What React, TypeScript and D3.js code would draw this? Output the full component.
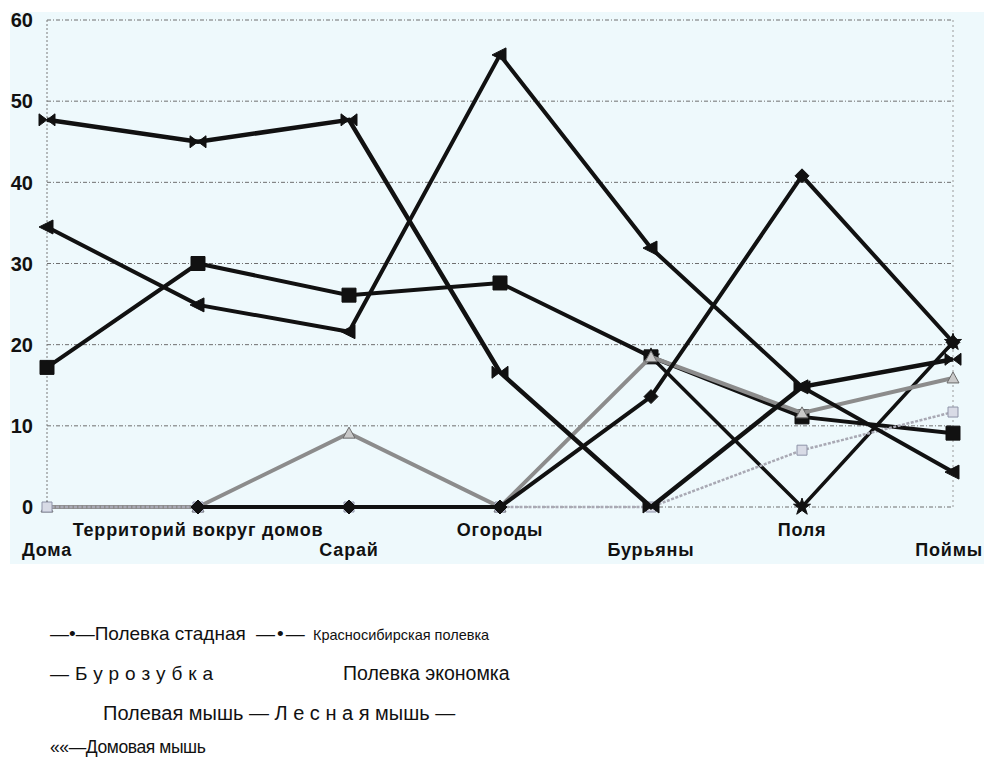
import React from "react";
import * as d3 from "d3";

const categories = ["Дома", "Территорий вокруг домов", "Сарай", "Огороды", "Бурьяны", "Поля", "Поймы"];
const yTicks = [0, 10, 20, 30, 40, 50, 60];

const polevkaStadnaya = [47.7, 45.0, 47.7, 16.6, 0, 14.8, 18.2];
const krasnosibirskaya = [34.5, 24.9, 21.6, 55.7, 31.9, 14.8, 4.3];
const burozubka = [17.2, 30.0, 26.1, 27.6, 18.5, 11.1, 9.1];
const ekonomka = [null, 0, 0, 0, 13.6, 40.8, 20.3];
const polevayaMysh = [null, null, null, null, 18.5, 0, 20.3];
const lesnayaMysh = [0, 0, 9.1, 0, 18.5, 11.6, 15.9];
const domovayaMysh = [0, 0, 0, 0, 0, 7.0, 11.7];

const legendRow1a = "—•—Полевка стадная";
const legendRow1dash = "—•—";
const legendRow1b = "Красносибирская полевка";
const legendRow2a = "— Б у р о з у б к а";
const legendRow2b = "Полевка экономка";
const legendRow3 = "Полевая мышь — Л е с н а я  мышь —";
const legendRow4 = "««—Домовая мышь";

type Marker = "square" | "bowtie" | "triLeft" | "diamond" | "star" | "triUp" | "smallSquare";

const markerPath: Record<Marker, string> = {
  square: "M-7,-7H7V7H-7Z",
  bowtie: "M-8,-6L0,0L-8,6Z M8,-6L0,0L8,6Z",
  triLeft: "M-8,0L6,-7L6,7Z",
  diamond: "M0,-7L7,0L0,7L-7,0Z",
  star: d3.symbol(d3.symbolStar, 90)() as string,
  triUp: "M0,-6L6,5L-6,5Z",
  smallSquare: "M-5,-5H5V5H-5Z",
};

interface Series {
  name: string;
  values: (number | null)[];
  color: string;
  width: number;
  marker: Marker;
  markerFill: string;
  markerStroke: string;
  dash?: string;
}

// draw order: later series on top
const series: Series[] = [
  { name: "Бурозубка", values: burozubka, color: "#111", width: 4, marker: "square", markerFill: "#111", markerStroke: "#111" },
  { name: "Полевая мышь", values: polevayaMysh, color: "#111", width: 3.5, marker: "star", markerFill: "#111", markerStroke: "#111" },
  { name: "Лесная мышь", values: lesnayaMysh, color: "#8c8c8c", width: 4, marker: "triUp", markerFill: "#c9c9c9", markerStroke: "#6a6a6a" },
  { name: "Домовая мышь", values: domovayaMysh, color: "#a9a9b4", width: 2.5, marker: "smallSquare", markerFill: "#d8dbe6", markerStroke: "#8e93a8", dash: "3,1.5" },
  { name: "Полевка стадная", values: polevkaStadnaya, color: "#111", width: 4.5, marker: "bowtie", markerFill: "#111", markerStroke: "#111" },
  { name: "Красносибирская полевка", values: krasnosibirskaya, color: "#111", width: 4, marker: "triLeft", markerFill: "#111", markerStroke: "#111" },
  { name: "Полевка экономка", values: ekonomka, color: "#111", width: 4, marker: "diamond", markerFill: "#111", markerStroke: "#111" },
];

export default function App() {
  const W = 984;
  const H = 757;
  const x = d3.scalePoint<string>().domain(categories).range([47, 953]);
  const y = d3.scaleLinear().domain([0, 60]).range([507, 20]);

  const line = d3
    .line<number | null>()
    .defined((d) => d !== null)
    .x((_, i) => x(categories[i]) as number)
    .y((d) => y(d as number));

  const axisFont = "'Liberation Sans', Arial, sans-serif";
  const last = categories.length - 1;

  return (
    <svg
      width={W}
      height={H}
      viewBox={`0 0 ${W} ${H}`}
      style={{ position: "absolute", left: 0, top: 0, background: "#fff" }}
    >
      <rect x={10} y={12} width={974} height={552} fill="#eef9fc" />
      {/* gridlines */}
      {yTicks.map((t) => (
        <line
          key={"g" + t}
          x1={47}
          x2={953}
          y1={y(t)}
          y2={y(t)}
          stroke="#6f6f6f"
          strokeWidth={1}
          strokeDasharray="4,2,1,2"
        />
      ))}
      <line x1={47} x2={47} y1={y(60)} y2={y(0)} stroke="#7a7a7a" strokeWidth={1} strokeDasharray="2,2" />
      <line x1={953} x2={953} y1={y(60)} y2={y(0)} stroke="#9a9a9a" strokeWidth={1} strokeDasharray="2,3" />

      {/* y tick labels */}
      {yTicks.map((t) => (
        <text
          key={"yl" + t}
          x={33}
          y={y(t)}
          dy="0.36em"
          textAnchor="end"
          fontFamily={axisFont}
          fontWeight="bold"
          fontSize={20}
          fill="#111"
        >
          {t}
        </text>
      ))}

      {/* series */}
      {series.map((s) => (
        <g key={s.name}>
          <path
            d={line(s.values) || ""}
            fill="none"
            stroke={s.color}
            strokeWidth={s.width}
            strokeLinejoin="miter"
            strokeDasharray={s.dash}
          />
          {s.values.map((v, i) =>
            v === null ? null : (
              <path
                key={i}
                d={markerPath[s.marker]}
                transform={`translate(${x(categories[i])},${y(v)})`}
                fill={s.markerFill}
                stroke={s.markerStroke}
                strokeWidth={1}
              />
            )
          )}
        </g>
      ))}

      {/* x labels, staggered */}
      {categories.map((c, i) => (
        <text
          key={"xl" + c}
          x={i === last ? W - 1 : (x(c) as number)}
          y={i % 2 === 0 ? 556 : 536}
          textAnchor={i === last ? "end" : "middle"}
          fontFamily={axisFont}
          fontWeight="bold"
          fontSize={18}
          letterSpacing={0.8}
          fill="#111"
        >
          {c}
        </text>
      ))}

      {/* legend */}
      <g fontFamily={axisFont} fill="#111">
        <text x={50} y={640} fontSize={19}>
          {legendRow1a}
        </text>
        <text x={256} y={640} fontSize={19} letterSpacing={2}>
          {legendRow1dash}
        </text>
        <text x={313} y={640} fontSize={14.5}>
          {legendRow1b}
        </text>
        <text x={50} y={680} fontSize={19} letterSpacing={0.3}>
          {legendRow2a}
        </text>
        <text x={343} y={680} fontSize={19.5}>
          {legendRow2b}
        </text>
        <text x={103} y={720} fontSize={20}>
          {legendRow3}
        </text>
        <text x={50} y={753} fontSize={17.5} letterSpacing={-0.4}>
          {legendRow4}
        </text>
      </g>
    </svg>
  );
}
